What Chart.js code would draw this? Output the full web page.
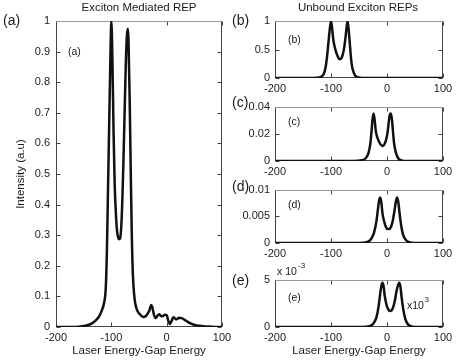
<!DOCTYPE html>
<html>
<head>
<meta charset="utf-8">
<script src="https://cdn.jsdelivr.net/npm/chart.js@4.4.1/dist/chart.umd.min.js"></script>
<style>
  body { margin: 0; background: #fff; }
  #wrap { position: relative; width: 462px; height: 362px; overflow: hidden; }
  canvas { position: absolute; }
</style>
</head>
<body>
<div id="wrap">
  <canvas id="chartA" width="240" height="362" style="left:0;top:0"></canvas>
  <canvas id="chartB" width="232" height="95" style="left:230px;top:0"></canvas>
  <canvas id="chartC" width="232" height="83" style="left:230px;top:95px"></canvas>
  <canvas id="chartD" width="232" height="82" style="left:230px;top:178px"></canvas>
  <canvas id="chartE" width="232" height="102" style="left:230px;top:260px"></canvas>
</div>
<script>
// shared x ticks
const xTicks = [-200, -100, 0, 100];

// (a) exciton mediated REP
const aX = [-200, -170, -155, -145, -135, -128, -122, -117, -113, -110, -108, -106, -104, -102, -100,
  -98, -96, -94, -92, -90, -88, -86, -84, -82, -80, -78, -76, -74, -72, -70, -69, -67, -65, -63,
  -61, -59, -56, -52, -47, -42, -38, -34, -31, -28, -26, -23, -20, -16, -13, -10, -7, -3, 0, 3,
  5.5, 9, 12, 15, 18, 22, 27, 32, 38, 45, 52, 60, 70, 80, 90, 100];
const aY = [0, 0, 0.002, 0.005, 0.012, 0.022, 0.035, 0.055, 0.08, 0.13, 0.25, 0.45, 0.65, 0.85, 1.0,
  0.87, 0.64, 0.47, 0.38, 0.32, 0.295, 0.287, 0.29, 0.33, 0.42, 0.55, 0.7, 0.85, 0.95, 0.975, 0.94, 0.76, 0.52, 0.3,
  0.17, 0.11, 0.07, 0.05, 0.039, 0.033, 0.035, 0.045, 0.055, 0.072, 0.065, 0.04, 0.029, 0.038, 0.042, 0.035, 0.036, 0.04, 0.039, 0.02,
  0.01, 0.02, 0.032, 0.028, 0.025, 0.03, 0.029, 0.024, 0.017, 0.01, 0.006, 0.004, 0.002, 0.001, 0, 0];
const aYTicks = [0, 0.1, 0.2, 0.3, 0.4, 0.5, 0.6, 0.7, 0.8, 0.9, 1];

// (b)-(e) unbound exciton REPs
const bX = [-200, -140, -125, -118, -113, -110, -107, -104, -102, -100, -98, -96, -94, -91, -88, -85,
  -82, -79, -76, -74, -72, -70.5, -69, -67, -65, -63, -60, -57, -53, -48, -40, 100];
const bY = [0, 0, 0.005, 0.02, 0.07, 0.17, 0.38, 0.68, 0.87, 1.0, 0.87, 0.68, 0.57, 0.46, 0.38, 0.33,
  0.34, 0.41, 0.56, 0.72, 0.9, 0.99, 0.9, 0.68, 0.43, 0.24, 0.11, 0.045, 0.015, 0.004, 0, 0];
const bYTicks = [0, 0.5, 1];

const cX = [-200, -60, -45, -38, -33, -30, -28, -26, -24, -22, -20, -17, -14, -11, -8, -5, -2, 1, 3, 5, 7,
  9, 11, 13, 16, 20, 26, 35, 100];
const cY = [0, 0, 0.0005, 0.002, 0.006, 0.012, 0.02, 0.03, 0.035, 0.03, 0.022, 0.017, 0.014, 0.012, 0.011,
  0.012, 0.015, 0.021, 0.028, 0.034, 0.035, 0.03, 0.02, 0.012, 0.006, 0.002, 0.0005, 0, 0];
const cYTicks = [0, 0.02, 0.04];

const dX = [-200, -50, -35, -28, -23, -19, -16, -14, -12, -10, -8, -5, -2, 1, 4, 7, 10, 13, 16, 18, 20,
  22, 25, 28, 32, 38, 50, 100];
const dY = [0, 0, 0.0002, 0.0008, 0.002, 0.004, 0.0065, 0.008, 0.0085, 0.0075, 0.0055, 0.004, 0.003,
  0.0026, 0.0026, 0.003, 0.004, 0.0058, 0.0078, 0.0085, 0.0078, 0.006, 0.0035, 0.0018, 0.0008, 0.0002, 0, 0];
const dYTicks = [0, 0.005, 0.01];

const eX = [-200, -45, -30, -24, -19, -15, -12, -10, -8, -6, -4, -1, 2, 5, 8, 11, 14, 17, 20, 22, 24, 26,
  29, 32, 36, 42, 50, 100];
const eY = [0, 0, 0.1, 0.4, 1.0, 2.2, 3.6, 4.4, 4.7, 4.3, 3.3, 2.4, 1.9, 1.7, 1.75, 2.1, 2.8, 3.8, 4.5,
  4.7, 4.3, 3.2, 1.9, 1.0, 0.4, 0.1, 0, 0];
const eYTicks = [0, 5];

const FONT = '"Liberation Sans", Arial, Helvetica, sans-serif';
const INK = '#1a1a1a';

// box + inward tick marks, matlab style
const frame = {
  id: 'frame',
  beforeDatasetsDraw(chart) {
    const { ctx, chartArea: a, scales: { x, y } } = chart;
    const L = Math.round(a.left) + 0.5, R = Math.round(a.right) - 0.5;
    const T = Math.round(a.top) + 0.5, B = Math.round(a.bottom) - 0.5;
    ctx.save();
    ctx.lineWidth = 1;
    ctx.strokeStyle = '#444';
    ctx.beginPath();
    x.ticks.forEach(t => {
      const px = Math.round(x.getPixelForValue(t.value)) + 0.5;
      ctx.moveTo(px, B); ctx.lineTo(px, B - 4);
      ctx.moveTo(px, T); ctx.lineTo(px, T + 4);
    });
    y.ticks.forEach(t => {
      const py = Math.round(y.getPixelForValue(t.value)) + 0.5;
      ctx.moveTo(L, py); ctx.lineTo(L + 4, py);
      ctx.moveTo(R, py); ctx.lineTo(R - 4, py);
    });
    ctx.moveTo(L, T); ctx.lineTo(L, B); ctx.lineTo(R, B); ctx.lineTo(R, T);
    ctx.stroke();
    ctx.strokeStyle = '#999';
    ctx.beginPath();
    ctx.moveTo(L, T); ctx.lineTo(R, T);
    ctx.stroke();
    ctx.restore();
  }
};

function notes(list) {
  return {
    id: 'notes',
    afterDraw(chart) {
      const ctx = chart.ctx;
      ctx.save();
      ctx.fillStyle = INK;
      ctx.textBaseline = 'middle';
      list.forEach(n => {
        ctx.font = n.size + 'px ' + FONT;
        ctx.textAlign = n.align || 'left';
        ctx.fillText(n.text, n.x, n.y);
      });
      ctx.restore();
    }
  };
}

function panel(id, xs, ys, yTicks, cfg) {
  return new Chart(document.getElementById(id), {
    type: 'line',
    data: {
      datasets: [{
        data: xs.map((v, i) => ({ x: v, y: ys[i] })),
        borderColor: '#111',
        borderWidth: 2.5,
        pointRadius: 0,
        fill: false,
        cubicInterpolationMode: 'monotone'
      }]
    },
    options: {
      responsive: false,
      animation: false,
      events: [],
      layout: { padding: { top: cfg.top, right: cfg.right, left: 0, bottom: 0 } },
      plugins: { legend: { display: false }, tooltip: { enabled: false } },
      scales: {
        x: {
          type: 'linear', min: -200, max: 100,
          afterBuildTicks: s => { s.ticks = xTicks.map(v => ({ value: v })); },
          afterFit: s => { s.height = cfg.xh; },
          grid: { display: false, drawTicks: false },
          border: { display: false },
          ticks: { padding: 4, color: INK, font: { family: FONT, size: 11 }, maxRotation: 0, autoSkip: false, callback: v => String(v) },
          title: {
            display: !!cfg.xTitle, text: cfg.xTitle || '', color: INK,
            font: { family: FONT, size: 11.5 }, padding: { top: 0, bottom: 4 }
          }
        },
        y: {
          min: yTicks[0], max: yTicks[yTicks.length - 1],
          afterBuildTicks: s => { s.ticks = yTicks.map(v => ({ value: v })); },
          afterFit: s => { s.width = cfg.yw; },
          grid: { display: false, drawTicks: false },
          border: { display: false },
          ticks: { padding: cfg.ypad, color: INK, font: { family: FONT, size: 11 }, autoSkip: false, callback: v => String(v) },
          title: {
            display: !!cfg.yTitle, text: cfg.yTitle || '', color: INK,
            font: { family: FONT, size: 11.5 }, padding: { top: 14, bottom: 0 }
          }
        }
      }
    },
    plugins: [frame, notes(cfg.notes)]
  });
}

panel('chartA', aX, aY, aYTicks, {
  top: 21, right: 18, xh: 35, yw: 56, ypad: 6,
  xTitle: 'Laser Energy-Gap Energy', yTitle: 'Intensity (a.u)',
  notes: [
    { text: 'Exciton Mediated REP', x: 139, y: 8, size: 11.5, align: 'center' },
    { text: '(a)', x: 3, y: 21, size: 14 },
    { text: '(a)', x: 68, y: 52, size: 10.5 }
  ]
});

panel('chartB', bX, bY, bYTicks, {
  top: 21, right: 19, xh: 17, yw: 45, ypad: 5,
  notes: [
    { text: 'Unbound Exciton REPs', x: 128, y: 8, size: 11.5, align: 'center' },
    { text: '(b)', x: 2, y: 21, size: 14 },
    { text: '(b)', x: 58, y: 40, size: 10.5 }
  ]
});

panel('chartC', cX, cY, cYTicks, {
  top: 9, right: 19, xh: 17, yw: 45, ypad: 5,
  notes: [
    { text: '(c)', x: 2, y: 8, size: 14 },
    { text: '(c)', x: 58, y: 27, size: 10.5 }
  ]
});

panel('chartD', dX, dY, dYTicks, {
  top: 8, right: 19, xh: 17, yw: 45, ypad: 5,
  notes: [
    { text: '(d)', x: 2, y: 9, size: 14 },
    { text: '(d)', x: 58, y: 27, size: 10.5 }
  ]
});

panel('chartE', eX, eY, eYTicks, {
  top: 20, right: 19, xh: 35, yw: 45, ypad: 5,
  xTitle: 'Laser Energy-Gap Energy',
  notes: [
    { text: '(e)', x: 2, y: 21, size: 14 },
    { text: '(e)', x: 58, y: 38, size: 10.5 },
    { text: 'x 10', x: 47, y: 12, size: 10.5 },
    { text: '-3', x: 68, y: 6, size: 8 },
    { text: 'x10', x: 177, y: 46, size: 10.5 },
    { text: '3', x: 194.5, y: 40, size: 8 }
  ]
});
</script>
</body>
</html>
